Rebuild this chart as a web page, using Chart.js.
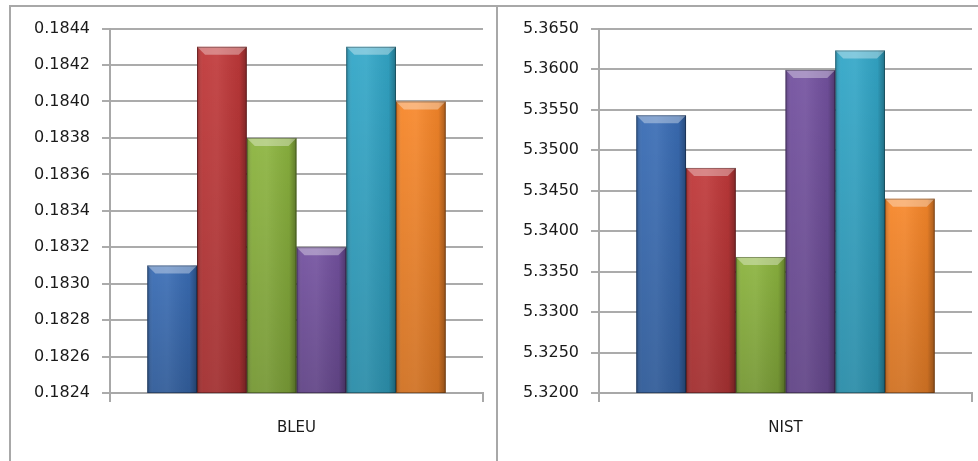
<!DOCTYPE html>
<html>
<head>
<meta charset="utf-8">
<script src="https://cdn.jsdelivr.net/npm/chart.js@4/dist/chart.umd.min.js"></script>
<style>
  body { margin: 0; background: #fff; width: 978px; height: 461px; overflow: hidden; position: relative; }
  .panel { position: absolute; border: 2px solid #a8a8a8; box-sizing: border-box; }
  #leftPanel { left: 9px; top: 5px; width: 490px; height: 480px; }
  #rightPanel { left: 496px; top: 5px; width: 500px; height: 480px; background: #fff; }
  canvas { position: absolute; }
  #bleuChart { left: 11px; top: 7px; }
  #nistChart { left: 498px; top: 7px; }
</style>
</head>
<body>
<div class="panel" id="leftPanel"></div>
<div class="panel" id="rightPanel"></div>
<canvas id="bleuChart" width="486" height="454"></canvas>
<canvas id="nistChart" width="480" height="454"></canvas>
<script>
"use strict";
(function() {
    const SERIES = ["System 1", "System 2", "System 3", "System 4", "System 5", "System 6"];
    const BLEU_VALUES = [0.1831, 0.1843, 0.1838, 0.1832, 0.1843, 0.1840];
    const NIST_VALUES = [5.3543, 5.3478, 5.3368, 5.3599, 5.3623, 5.3440];
    const BLEU_TICKS = [0.1824, 0.1826, 0.1828, 0.1830, 0.1832, 0.1834, 0.1836, 0.1838, 0.1840, 0.1842, 0.1844];
    const NIST_TICKS = [5.3200, 5.3250, 5.3300, 5.3350, 5.3400, 5.3450, 5.3500, 5.3550, 5.3600, 5.3650];
    const PALETTE = ["#3a6db5", "#c0393a", "#8cb43f", "#7452a0", "#33a7c8", "#f7872a"];

    Chart.defaults.font.family = "'DejaVu Sans', sans-serif";
    Chart.defaults.font.size = 16;
    Chart.defaults.color = "#1a1a1a";

    //draws the excel-like bevel on top of the plain bars
    const bevel = {
        id: "bevel",
        afterDatasetsDraw(chart) {
            const ctx = chart.ctx;
            const area = chart.chartArea;
            chart.data.datasets.forEach((ds, di) => {
                chart.getDatasetMeta(di).data.forEach(el => {
                    const w = el.width;
                    const left = el.x - w / 2, right = left + w;
                    const top = el.y, bottom = Math.min(el.base, area.bottom);
                    const b = 8;
                    ctx.save();
                    let g = ctx.createLinearGradient(left, 0, right, 0);
                    g.addColorStop(0, "rgba(0,0,0,0.22)");
                    g.addColorStop(0.12, "rgba(255,255,255,0.05)");
                    g.addColorStop(0.4, "rgba(255,255,255,0.08)");
                    g.addColorStop(0.85, "rgba(0,0,0,0.06)");
                    g.addColorStop(1, "rgba(0,0,0,0.32)");
                    ctx.fillStyle = g;
                    ctx.fillRect(left, top, w, bottom - top);
                    let v = ctx.createLinearGradient(0, top, 0, bottom);
                    v.addColorStop(0, "rgba(0,0,0,0)");
                    v.addColorStop(1, "rgba(0,0,0,0.15)");
                    ctx.fillStyle = v;
                    ctx.fillRect(left, top, w, bottom - top);
                    ctx.beginPath();
                    ctx.moveTo(left, top);
                    ctx.lineTo(right, top);
                    ctx.lineTo(right - b, top + b);
                    ctx.lineTo(left + b, top + b);
                    ctx.closePath();
                    ctx.fillStyle = "rgba(255,255,255,0.35)";
                    ctx.fill();
                    ctx.strokeStyle = "rgba(0,0,0,0.3)";
                    ctx.lineWidth = 1;
                    ctx.strokeRect(left + 0.5, top + 0.5, w - 1, bottom - top - 1);
                    ctx.restore();
                });
            });
        }
    };

    function makeChart(id, category, values, ticks, yWidth, padding) {
        new Chart(document.getElementById(id), {
            type: "bar",
            data: {
                labels: [category],
                datasets: SERIES.map((name, i) => ({
                    label: name,
                    data: [values[i]],
                    backgroundColor: PALETTE[i],
                    borderWidth: 0
                }))
            },
            options: {
                responsive: false,
                animation: false,
                layout: {padding: padding},
                categoryPercentage: 0.8,
                barPercentage: 1,
                plugins: {
                    legend: {display: false},
                    tooltip: {enabled: false}
                },
                scales: {
                    x: {
                        afterFit: s => { s.height = 68; },
                        grid: {offset: true, drawOnChartArea: false, tickLength: 9, color: "#a8a8a8", lineWidth: 2},
                        border: {color: "#a8a8a8", width: 2},
                        ticks: {padding: 17, font: {size: 15}}
                    },
                    y: {
                        min: ticks[0],
                        max: ticks[ticks.length - 1],
                        afterFit: s => { s.width = yWidth; },
                        afterBuildTicks: s => { s.ticks = ticks.map(t => ({value: t})); },
                        grid: {color: "#ababab", lineWidth: 2, tickLength: 8},
                        border: {color: "#a8a8a8", width: 2},
                        ticks: {padding: 12, callback: v => v.toFixed(4)}
                    }
                }
            },
            plugins: [bevel]
        });
    }

    makeChart("bleuChart", "BLEU", BLEU_VALUES, BLEU_TICKS, 99, {top: 20, right: 14, left: 0, bottom: 0});
    makeChart("nistChart", "NIST", NIST_VALUES, NIST_TICKS, 101, {top: 21, right: 6, left: 0, bottom: 0});
})();
</script>
</body>
</html>
